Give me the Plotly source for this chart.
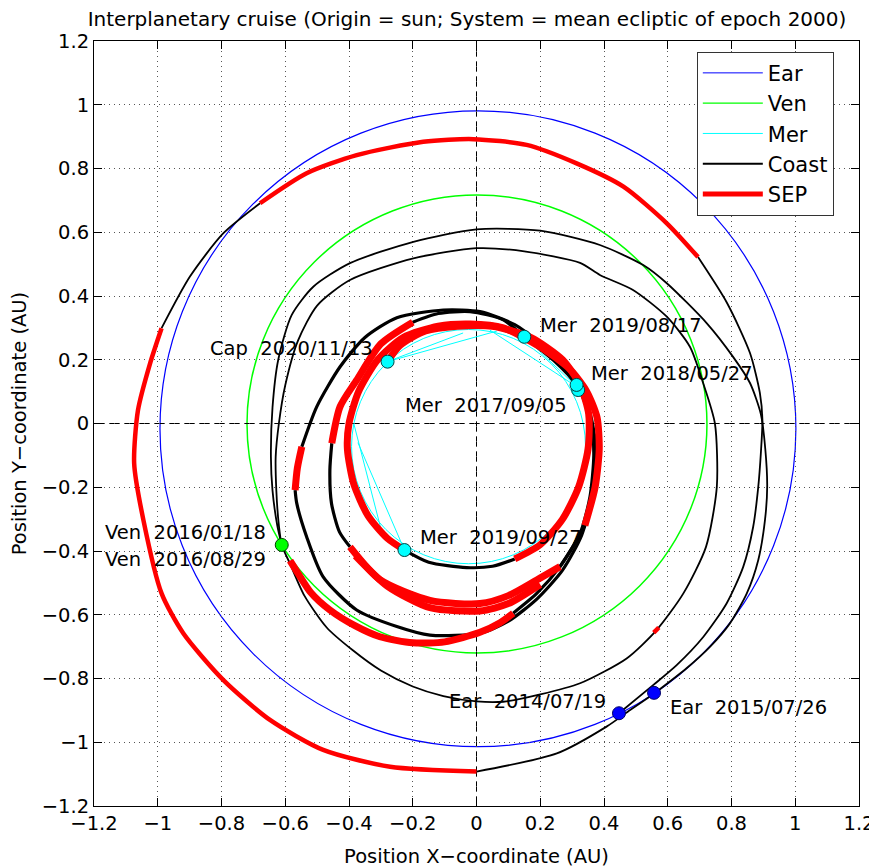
import plotly.graph_objects as go

# ---------------- axes ----------------
X_RANGE = [-1.2, 1.2]
Y_RANGE = [-1.2, 1.2]
TICK_STEP = 0.2
TITLE = "Interplanetary cruise (Origin = sun; System = mean ecliptic of epoch 2000)"
X_TITLE = "Position X\u2212coordinate (AU)"
Y_TITLE = "Position Y\u2212coordinate (AU)"

# ---------------- planet orbits (bounding boxes) ----------------
# [x_min, x_max, y_min, y_max]
earth_orbit = [-0.993, 1.002, -1.014, 0.981]
venus_orbit = [-0.720, 0.723, -0.720, 0.717]
mercury_orbit = [-0.392, 0.342, -0.440, 0.295]

# sparse Mercury ephemeris chords visible inside the ring
mercury_chord_1 = [(-0.280, 0.194), (-0.042, 0.284)]
mercury_chord_2 = [(-0.280, 0.194), (0.064, 0.290)]
mercury_chord_3 = [(0.042, 0.293), (0.315, 0.115)]
mercury_chord_4 = [(0.150, 0.272), (0.310, 0.120)]
mercury_chord_5 = [(-0.385, 0.000), (-0.300, -0.330)]
mercury_chord_6 = [(-0.372, -0.060), (-0.226, -0.397)]

# ---------------- spacecraft trajectory arcs ----------------
# Earth -> Earth loop
coast_launch = [(0.447, -0.909), (0.555, -0.820), (0.628, -0.758), (0.712, -0.669),
                (0.785, -0.564), (0.837, -0.449), (0.868, -0.324), (0.884, -0.198),
                (0.892, -0.094), (0.897, 0.011), (0.889, 0.096), (0.858, 0.221),
                (0.786, 0.378), (0.695, 0.522)]
sep_outer_top = [(0.695, 0.522), (0.597, 0.628), (0.461, 0.743), (0.314, 0.816),
                 (0.157, 0.874), (-0.010, 0.892), (-0.167, 0.884), (-0.376, 0.842),
                 (-0.533, 0.785), (-0.679, 0.691)]
coast_outer_left = [(-0.679, 0.691), (-0.794, 0.597), (-0.899, 0.461), (-0.988, 0.299)]
sep_outer_left = [(-0.988, 0.299), (-1.024, 0.189), (-1.062, 0.042), (-1.074, -0.125),
                  (-1.045, -0.303), (-0.988, -0.533), (-0.920, -0.658), (-0.794, -0.805),
                  (-0.648, -0.930), (-0.481, -1.024), (-0.271, -1.077), (0.000, -1.092)]
coast_outer_bottom = [(0.000, -1.092), (0.252, -1.035), (0.408, -0.951), (0.482, -0.899),
                      (0.558, -0.847)]

# Earth -> Venus
coast_e2v = [(0.558, -0.847), (0.659, -0.768), (0.733, -0.700), (0.795, -0.627),
             (0.848, -0.533), (0.884, -0.428), (0.905, -0.303), (0.912, -0.198),
             (0.906, -0.080), (0.892, 0.030), (0.858, 0.127), (0.805, 0.209),
             (0.722, 0.315), (0.597, 0.440), (0.523, 0.497), (0.387, 0.560),
             (0.200, 0.605), (0.000, 0.609), (-0.198, 0.570), (-0.397, 0.503),
             (-0.512, 0.429), (-0.580, 0.340), (-0.622, 0.200), (-0.640, 0.050),
             (-0.645, -0.104), (-0.640, -0.210), (-0.625, -0.320), (-0.611, -0.381)]

# Venus -> Venus loop
coast_vv = [(-0.611, -0.381), (-0.585, -0.440), (-0.540, -0.540), (-0.470, -0.640),
            (-0.390, -0.710), (-0.300, -0.775), (-0.200, -0.825), (-0.104, -0.855),
            (0.000, -0.872), (0.084, -0.873), (0.200, -0.850), (0.325, -0.815),
            (0.471, -0.737), (0.565, -0.648), (0.649, -0.533), (0.720, -0.387),
            (0.754, -0.198), (0.748, 0.000), (0.711, 0.127), (0.670, 0.240),
            (0.597, 0.335), (0.491, 0.419), (0.387, 0.466), (0.325, 0.504),
            (0.150, 0.540), (0.000, 0.550), (-0.198, 0.518), (-0.397, 0.450),
            (-0.500, 0.370), (-0.560, 0.260), (-0.600, 0.120), (-0.620, 0.000),
            (-0.630, -0.104), (-0.628, -0.210), (-0.620, -0.320), (-0.611, -0.381)]
sep_dot = [(0.556, -0.656), (0.572, -0.640)]

# Venus -> Mercury spiral
sep_v2 = [(-0.585, -0.430), (-0.560, -0.470), (-0.520, -0.530), (-0.460, -0.585),
          (-0.380, -0.635), (-0.303, -0.669), (-0.200, -0.688), (-0.100, -0.685),
          (0.011, -0.655), (0.074, -0.625), (0.115, -0.595)]
coast_b1 = [(0.115, -0.595), (0.189, -0.533), (0.262, -0.449), (0.325, -0.345),
            (0.356, -0.230), (0.368, -0.100), (0.360, 0.000), (0.330, 0.090),
            (0.270, 0.180), (0.200, 0.250), (0.120, 0.310), (0.011, 0.351),
            (-0.104, 0.356), (-0.250, 0.332), (-0.350, 0.270), (-0.428, 0.178),
            (-0.501, 0.053), (-0.548, -0.073)]
sep_b_left = [(-0.548, -0.073), (-0.562, -0.140), (-0.569, -0.209)]
coast_b2 = [(-0.569, -0.209), (-0.564, -0.250), (-0.533, -0.355), (-0.481, -0.481),
            (-0.376, -0.585), (-0.250, -0.637), (-0.146, -0.664), (0.011, -0.658),
            (0.100, -0.620), (0.190, -0.550), (0.270, -0.460), (0.330, -0.350),
            (0.365, -0.220), (0.375, -0.080), (0.356, 0.032), (0.314, 0.121),
            (0.241, 0.199), (0.150, 0.272), (0.084, 0.325), (-0.020, 0.351),
            (-0.120, 0.345), (-0.200, 0.318)]
sep_c_left = [(-0.200, 0.318), (-0.300, 0.250), (-0.376, 0.136), (-0.428, 0.053),
              (-0.454, -0.062)]
coast_c_left = [(-0.454, -0.062), (-0.460, -0.146), (-0.455, -0.250), (-0.430, -0.340),
                (-0.397, -0.387)]
sep_c_bottom = [(-0.397, -0.387), (-0.303, -0.490), (-0.146, -0.555), (0.011, -0.565),
                (0.100, -0.540), (0.189, -0.491), (0.262, -0.449)]
sep_c_bottom_2 = [(-0.380, -0.415), (-0.280, -0.510), (-0.146, -0.578), (0.011, -0.588),
                  (0.100, -0.565), (0.200, -0.505)]
coast_c_right = [(0.262, -0.449), (0.300, -0.390), (0.340, -0.320)]
sep_ring_1 = [(0.340, -0.320), (0.372, -0.200), (0.385, -0.080), (0.378, 0.020),
              (0.346, 0.100), (0.293, 0.170), (0.200, 0.240), (0.084, 0.300),
              (-0.020, 0.312), (-0.120, 0.305), (-0.230, 0.270), (-0.310, 0.200),
              (-0.370, 0.100), (-0.400, 0.000), (-0.405, -0.080), (-0.385, -0.190),
              (-0.340, -0.290), (-0.280, -0.360), (-0.226, -0.397)]
coast_ring_bottom = [(-0.226, -0.397), (-0.150, -0.435), (-0.031, -0.452),
                     (0.050, -0.448), (0.120, -0.425)]
sep_ring_2 = [(0.120, -0.425), (0.200, -0.380), (0.270, -0.300), (0.320, -0.200),
              (0.350, -0.080), (0.352, 0.030), (0.325, 0.120), (0.270, 0.200),
              (0.170, 0.270), (0.050, 0.305), (-0.060, 0.305), (-0.160, 0.290),
              (-0.240, 0.245), (-0.279, 0.194)]

COAST_OUTER = [coast_launch, coast_outer_left, coast_outer_bottom, coast_e2v, coast_vv]
COAST_INNER = [coast_b1, coast_b2, coast_c_left, coast_c_right, coast_ring_bottom]
SEP_OUTER = [sep_outer_top, sep_outer_left, sep_dot]
SEP_INNER = [sep_v2, sep_b_left, sep_c_left, sep_c_bottom, sep_c_bottom_2,
             sep_ring_1, sep_ring_2]
MERCURY_CHORDS = [mercury_chord_1, mercury_chord_2, mercury_chord_3,
                  mercury_chord_4, mercury_chord_5, mercury_chord_6]

# ---------------- flyby events ----------------
earth_event_x = [0.447, 0.557]
earth_event_y = [-0.909, -0.845]
venus_event_x = [-0.611]
venus_event_y = [-0.381]
mercury_event_x = [0.319, 0.314, 0.150, -0.226, -0.279]
mercury_event_y = [0.105, 0.121, 0.272, -0.397, 0.194]

label_text = ["Mer \u00a02019/08/17", "Mer \u00a02018/05/27", "Mer \u00a02017/09/05",
              "Cap \u00a02020/11/13", "Mer \u00a02019/09/27", "Ven \u00a02016/01/18",
              "Ven \u00a02016/08/29", "Ear \u00a02014/07/19", "Ear \u00a02015/07/26"]
label_x = [0.194, 0.354, -0.230, -0.841, -0.183, -1.171, -1.171, -0.093, 0.602]
label_y = [0.309, 0.158, 0.058, 0.234, -0.358, -0.341, -0.426, -0.871, -0.890]

legend_names = ["Ear", "Ven", "Mer", "Coast", "SEP"]

# ---------------- styles ----------------
BLUE = "#0000FF"
GREEN = "#00FF00"
CYAN = "#00FFFF"
RED = "#FF0000"
BLACK = "#000000"
FONT = "DejaVu Sans, Liberation Sans, Arial, sans-serif"
FS = 19.5
PAGE_OFFSET = 8  # default body margin of the html page

fig = go.Figure()


def add_arc(points, color, width):
    xs = [p[0] for p in points]
    ys = [p[1] for p in points]
    fig.add_trace(go.Scatter(x=xs, y=ys, mode="lines",
                             line=dict(color=color, width=width, shape="spline", smoothing=0.7),
                             showlegend=False, hoverinfo="skip"))


for arc in MERCURY_CHORDS:
    fig.add_trace(go.Scatter(x=[p[0] for p in arc], y=[p[1] for p in arc], mode="lines",
                             line=dict(color=CYAN, width=1), showlegend=False, hoverinfo="skip"))
for arc in COAST_OUTER:
    add_arc(arc, BLACK, 1.8)
for arc in COAST_INNER:
    add_arc(arc, BLACK, 3.2)
for arc in SEP_OUTER:
    add_arc(arc, RED, 4.5)
for arc in SEP_INNER:
    add_arc(arc, RED, 7)

# flyby markers
fig.add_trace(go.Scatter(x=earth_event_x, y=earth_event_y, mode="markers",
                         marker=dict(size=13, color=BLUE, line=dict(color="#000066", width=1)),
                         showlegend=False, hoverinfo="skip"))
fig.add_trace(go.Scatter(x=venus_event_x, y=venus_event_y, mode="markers",
                         marker=dict(size=13, color=GREEN, line=dict(color="#004400", width=1)),
                         showlegend=False, hoverinfo="skip"))
fig.add_trace(go.Scatter(x=mercury_event_x, y=mercury_event_y, mode="markers",
                         marker=dict(size=13, color=CYAN, line=dict(color="#004444", width=1)),
                         showlegend=False, hoverinfo="skip"))

# legend entries
legend_styles = [(BLUE, 1), (GREEN, 1.2), (CYAN, 1), (BLACK, 2), (RED, 5)]
for name, (c, w) in zip(legend_names, legend_styles):
    fig.add_trace(go.Scatter(x=[None], y=[None], mode="lines", name=name,
                             line=dict(color=c, width=w)))

# orbit shapes
shapes = []
for box, col, w in [(earth_orbit, BLUE, 1.2), (venus_orbit, GREEN, 1.5), (mercury_orbit, CYAN, 1)]:
    shapes.append(dict(type="circle", xref="x", yref="y", x0=box[0], x1=box[1],
                       y0=box[2], y1=box[3], line=dict(color=col, width=w), layer="below"))
# dashed axes through the origin
shapes.append(dict(type="line", xref="x", yref="y", x0=X_RANGE[0], x1=X_RANGE[1], y0=0, y1=0,
                   line=dict(color=BLACK, width=1, dash="10px,5px"), layer="below"))
shapes.append(dict(type="line", xref="x", yref="y", x0=0, x1=0, y0=Y_RANGE[0], y1=Y_RANGE[1],
                   line=dict(color=BLACK, width=1, dash="10px,5px"), layer="below"))

annotations = []
for t, x, y in zip(label_text, label_x, label_y):
    annotations.append(dict(x=x, y=y, xref="x", yref="y", text=t, showarrow=False,
                            xanchor="left", yanchor="middle",
                            font=dict(family=FONT, size=FS, color=BLACK)))

axis_common = dict(
    dtick=TICK_STEP, tick0=0, showgrid=True, gridcolor="#555555",
    griddash="1px,4px", gridwidth=1, zeroline=False, showline=True, linecolor=BLACK,
    linewidth=1, mirror="ticks", ticks="inside", ticklen=8, tickcolor=BLACK,
    tickfont=dict(family=FONT, size=FS, color=BLACK), automargin=False,
)

W = 877 - PAGE_OFFSET
H = 868 - PAGE_OFFSET
fig.update_layout(
    width=W, height=H, autosize=False,
    margin=dict(l=94 - PAGE_OFFSET, r=18, t=41 - PAGE_OFFSET, b=62),
    paper_bgcolor="white", plot_bgcolor="white",
    title=dict(text=TITLE, x=0.4876, xref="paper", xanchor="center",
               y=1, yref="container", yanchor="top", pad=dict(t=4),
               font=dict(family=FONT, size=20, color=BLACK)),
    xaxis=dict(axis_common, range=X_RANGE,
               title=dict(text=X_TITLE, font=dict(family=FONT, size=FS, color=BLACK))),
    yaxis=dict(axis_common, range=Y_RANGE,
               title=dict(text=Y_TITLE, font=dict(family=FONT, size=FS, color=BLACK))),
    legend=dict(x=0.788, y=0.986, xanchor="left", yanchor="top", bgcolor="white",
                bordercolor="#333333", borderwidth=1,
                font=dict(family=FONT, size=21, color=BLACK), itemwidth=60,
                tracegroupgap=0),
    shapes=shapes, annotations=annotations, showlegend=True,
)

fig.write_html("out.html")
